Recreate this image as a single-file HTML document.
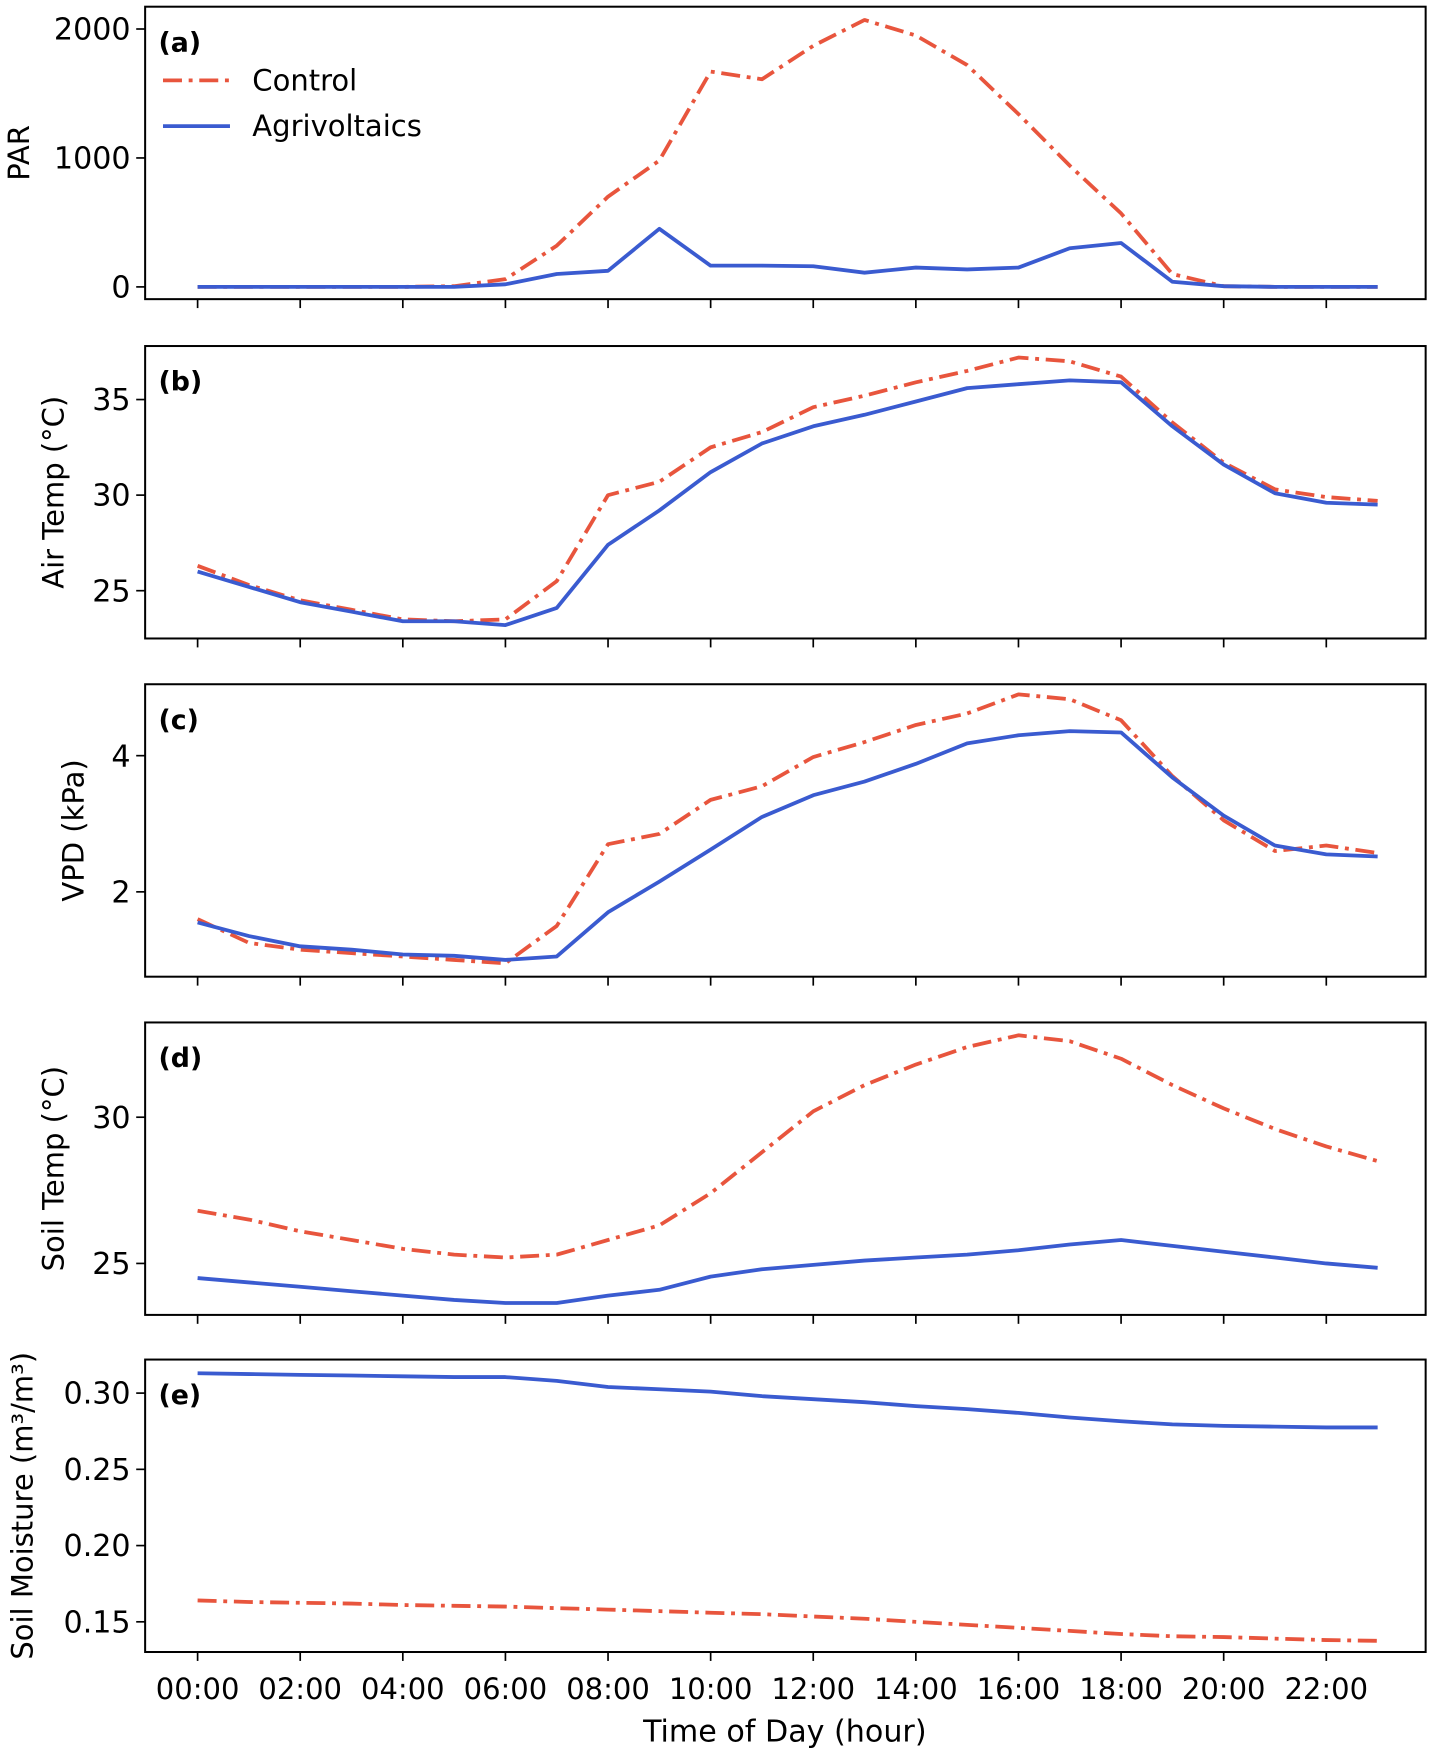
<!DOCTYPE html>
<html><head><meta charset="utf-8"><style>
html,body{margin:0;padding:0;background:#fff;}
svg{display:block;font-family:"DejaVu Sans","Liberation Sans",sans-serif;}
</style></head><body>
<svg id="chart" width="1429" height="1748" viewBox="0 0 1280 1566" preserveAspectRatio="none" xmlns="http://www.w3.org/2000/svg"></svg>
<script>
const hours = [0,1,2,3,4,5,6,7,8,9,10,11,12,13,14,15,16,17,18,19,20,21,22,23];
const xTickLabels = ["00:00","02:00","04:00","06:00","08:00","10:00","12:00","14:00","16:00","18:00","20:00","22:00"];
const parControl = [0,0,0,0,0,5,60,320,700,980,1670,1610,1870,2070,1950,1720,1340,940,570,100,5,0,0,0];
const parAgri = [0,0,0,0,0,0,20,100,125,450,165,165,160,110,150,135,150,300,340,40,5,0,0,0];
const airControl = [26.3,25.3,24.5,24.0,23.5,23.4,23.5,25.5,30.0,30.7,32.5,33.3,34.6,35.2,35.9,36.5,37.2,37.0,36.2,33.8,31.7,30.3,29.9,29.7];
const airAgri = [26.0,25.2,24.4,23.9,23.4,23.4,23.2,24.1,27.4,29.2,31.2,32.7,33.6,34.2,34.9,35.6,35.8,36.0,35.9,33.6,31.6,30.1,29.6,29.5];
const vpdControl = [1.6,1.25,1.15,1.1,1.05,1.0,0.95,1.5,2.7,2.85,3.35,3.55,3.98,4.2,4.45,4.62,4.9,4.83,4.52,3.7,3.05,2.6,2.68,2.57];
const vpdAgri = [1.55,1.35,1.2,1.15,1.08,1.06,1.0,1.05,1.7,2.15,2.62,3.1,3.42,3.62,3.88,4.18,4.3,4.36,4.34,3.68,3.12,2.68,2.55,2.52];
const soilTControl = [26.8,26.5,26.1,25.8,25.5,25.3,25.2,25.3,25.8,26.3,27.4,28.8,30.2,31.1,31.8,32.4,32.8,32.6,32.0,31.1,30.3,29.6,29.0,28.5];
const soilTAgri = [24.5,24.35,24.2,24.05,23.9,23.75,23.65,23.65,23.9,24.1,24.55,24.8,24.95,25.1,25.2,25.3,25.45,25.65,25.8,25.6,25.4,25.2,25.0,24.85];
const smControl = [0.164,0.163,0.1625,0.162,0.161,0.1605,0.16,0.159,0.158,0.157,0.156,0.155,0.1535,0.152,0.15,0.148,0.146,0.144,0.142,0.1405,0.14,0.139,0.138,0.1375];
const smAgri = [0.313,0.3125,0.312,0.3115,0.311,0.3105,0.3105,0.308,0.304,0.3025,0.301,0.298,0.296,0.294,0.2915,0.2895,0.287,0.284,0.2815,0.2795,0.2785,0.278,0.2775,0.2775];
const parTicks = [0,1000,2000];
const airTicks = [25,30,35];
const vpdTicks = [2,4];
const soilTTicks = [25,30];
const smTicks = [0.15,0.20,0.25,0.30];

const NS="http://www.w3.org/2000/svg";
const svg=document.getElementById('chart');
const L=130,R=1277;
const CC="#e8553d", AC="#3a5bd0";
function xs(h){return 177+(h/22)*1011;}
function mk(tag,attrs,parent){const e=document.createElementNS(NS,tag);for(const k in attrs)e.setAttribute(k,attrs[k]);(parent||svg).appendChild(e);return e;}

const panels=[
 {id:'a',top:6,bot:268,min:-95,max:2173,ticks:parTicks,fmt:v=>String(v),label:'PAR',tx:17,c:parControl,a:parAgri},
 {id:'b',top:310,bot:572,min:22.5,max:37.8,ticks:airTicks,fmt:v=>String(v),label:'Air Temp (°C)',tx:48,c:airControl,a:airAgri},
 {id:'c',top:613,bot:875,min:0.754,max:5.049,ticks:vpdTicks,fmt:v=>String(v),label:'VPD (kPa)',tx:66,c:vpdControl,a:vpdAgri},
 {id:'d',top:916,bot:1178,min:23.24,max:33.24,ticks:soilTTicks,fmt:v=>String(v),label:'Soil Temp (°C)',tx:48,c:soilTControl,a:soilTAgri},
 {id:'e',top:1218,bot:1480,min:0.1302,max:0.322,ticks:smTicks,fmt:v=>v.toFixed(2),label:'Soil Moisture (m³/m³)',tx:20,c:smControl,a:smAgri}
];
panels.forEach((p,i)=>{
  const g=mk('g',{});
  
  
  const ys=v=>p.bot-(v-p.min)/(p.max-p.min)*(p.bot-p.top);
  function line(vals,color,dash,name){
    const d=vals.map((v,j)=>(j?'L':'M')+xs(hours[j]).toFixed(1)+','+ys(v).toFixed(1)).join('');
    const pa=mk('path',{d:d,fill:'none',stroke:color,'stroke-width':3.4,'stroke-linejoin':'round'},g);
    if(dash)pa.setAttribute('stroke-dasharray',dash);
    
    
  }
  line(p.c,CC,'17,6,3.5,6','control-line-'+p.id);
  line(p.a,AC,null,'agrivoltaics-line-'+p.id);
  const fr=mk('rect',{x:L,y:p.top,width:R-L,height:p.bot-p.top,fill:'none',stroke:'#000','stroke-width':1.8},g);
  
  
  for(let h=0;h<=22;h+=2){mk('line',{x1:xs(h),x2:xs(h),y1:p.bot,y2:p.bot+8,stroke:'#000','stroke-width':1.5},g);}
  p.ticks.forEach(v=>{
    const y=ys(v);
    mk('line',{x1:L-8,x2:L,y1:y,y2:y,stroke:'#000','stroke-width':1.5},g);
    const t=mk('text',{x:L-13,y:y+9.5,'text-anchor':'end','font-size':27},g);
    t.textContent=p.fmt(v);
    
    
  });
  const cy=(p.top+p.bot)/2;
  const yl=mk('text',{x:0,y:0,transform:`translate(${p.tx},${cy}) rotate(-90)`,'text-anchor':'middle','dominant-baseline':'central','font-size':26},g);
  yl.textContent=p.label;
  
  
  const pl=mk('text',{x:142,y:p.top+40,'font-size':24,'font-weight':'bold'},g);
  pl.textContent='('+p.id+')';
  
  
});
xTickLabels.forEach((lab,k)=>{
  const t=mk('text',{x:xs(k*2),y:1522,'text-anchor':'middle','font-size':26});
  t.textContent=lab;
  
  
});
const xt=mk('text',{x:703,y:1560,'text-anchor':'middle','font-size':27});
xt.textContent='Time of Day (hour)';


const lg=mk('g',{});


mk('line',{x1:146,x2:206,y1:72,y2:72,stroke:CC,'stroke-width':3.4,'stroke-dasharray':'17,6,3.5,6'},lg);
mk('line',{x1:146,x2:206,y1:113,y2:113,stroke:AC,'stroke-width':3.4},lg);
const l1=mk('text',{x:226,y:81,'font-size':26},lg);l1.textContent='Control';


const l2=mk('text',{x:226,y:122,'font-size':26},lg);l2.textContent='Agrivoltaics';


</script>
</body></html>
